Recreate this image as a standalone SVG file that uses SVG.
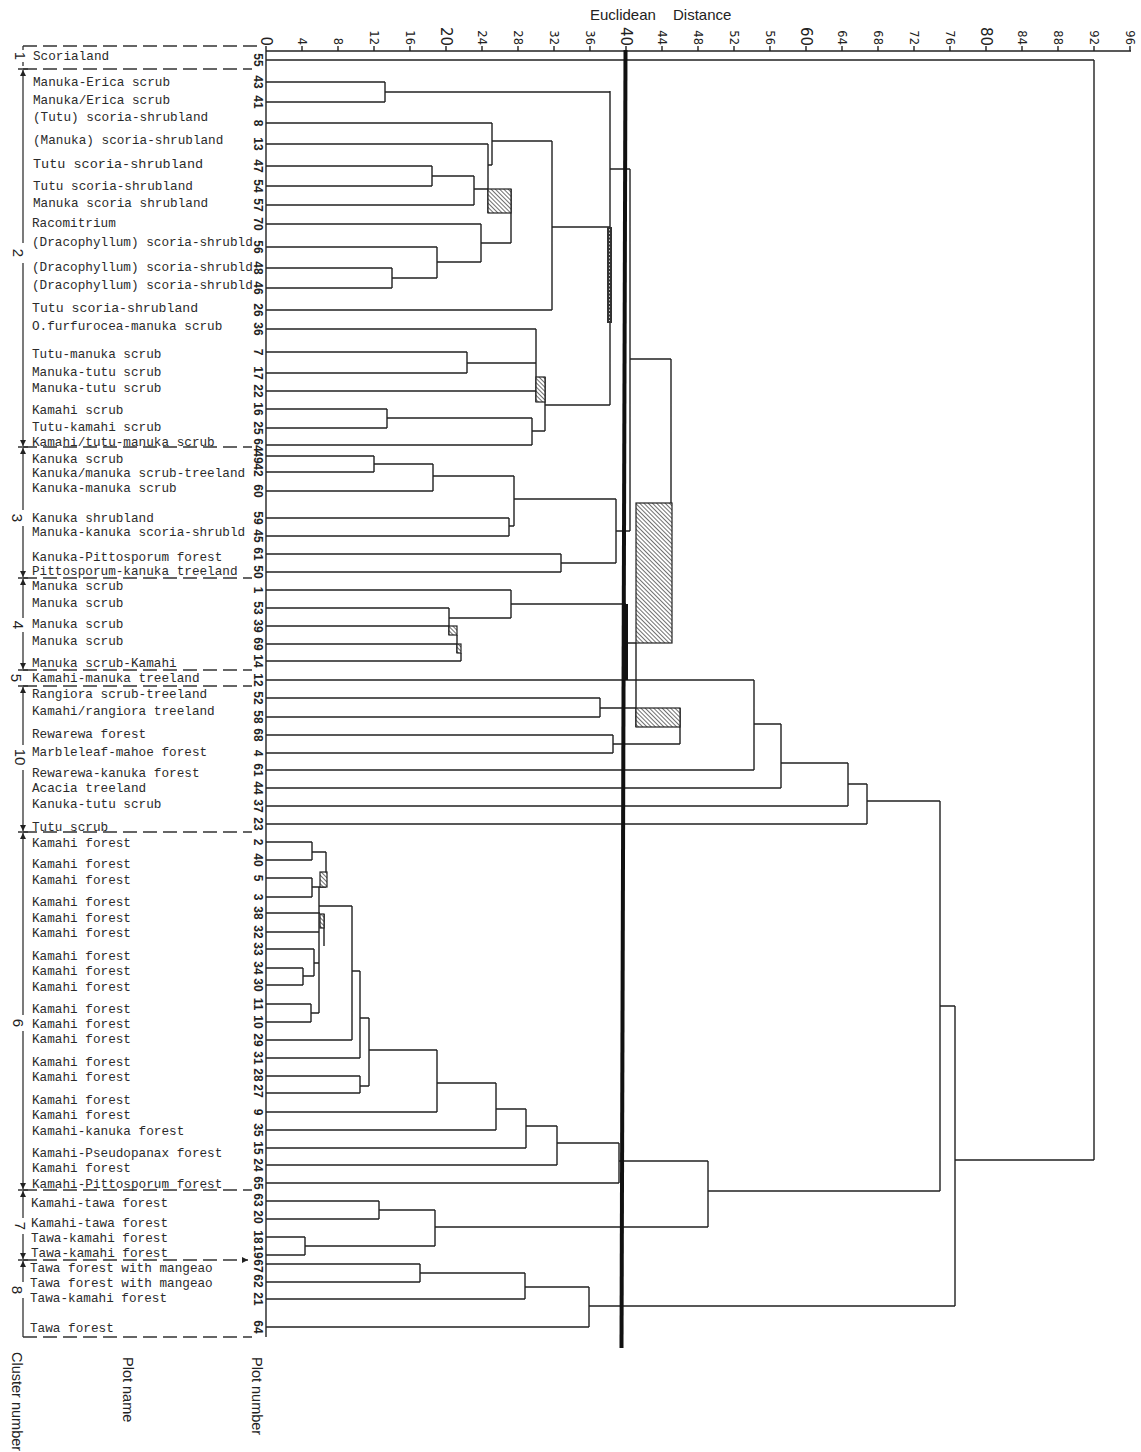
<svg xmlns="http://www.w3.org/2000/svg" width="1141" height="1452" viewBox="0 0 1141 1452">
<style>
.lbl{font-family:"Liberation Mono","Courier New",monospace;font-size:12.7px;fill:#2b2b2b}
.pn{font-family:"Liberation Sans",Arial,sans-serif;font-weight:bold;font-size:12px;fill:#222}
.ax{font-family:"DejaVu Sans","Liberation Sans",sans-serif;font-size:11.5px;fill:#222}
.axb{font-family:"DejaVu Sans","Liberation Sans",sans-serif;font-size:15px;fill:#222}
.ttl{font-family:"Liberation Sans",Arial,sans-serif;font-size:15px;fill:#222}
.cn{font-family:"Liberation Sans",Arial,sans-serif;font-size:15px;fill:#222}
.hd{font-family:"Liberation Sans",Arial,sans-serif;font-size:14.5px;fill:#222}
.d{fill:none;stroke:#222;stroke-width:1.4}
.dash{fill:none;stroke:#333;stroke-width:1.3;stroke-dasharray:14 6}
.cl{fill:none;stroke:#333;stroke-width:1.3}
.hb{fill:url(#hatch);stroke:#222;stroke-width:1.2}
</style>
<defs>
<pattern id="hatch" patternUnits="userSpaceOnUse" width="3" height="3" patternTransform="rotate(-45)">
<rect width="3" height="3" fill="#fff"/>
<line x1="0" y1="0" x2="0" y2="3" stroke="#222" stroke-width="1.3"/>
</pattern>
<marker id="ar" viewBox="0 0 6 6" refX="6" refY="3" markerWidth="6" markerHeight="6" markerUnits="userSpaceOnUse" orient="auto-start-reverse">
<path d="M0,0L6,3L0,6z" fill="#222"/>
</marker>
</defs>
<rect width="1141" height="1452" fill="#fff"/>

<g id="axis">
<text class="ttl" x="590" y="20">Euclidean</text>
<text class="ttl" x="673" y="20">Distance</text>
<path class="d" d="M266 51H1131"/>
<path class="d" stroke-width="1" d="M266 46V51M302 46V51M338 46V51M374 46V51M410 46V51M446 46V51M482 46V51M518 46V51M554 46V51M590 46V51M626 46V51M662 46V51M698 46V51M734 46V51M770 46V51M806 46V51M842 46V51M878 46V51M914 46V51M950 46V51M986 46V51M1022 46V51M1058 46V51M1094 46V51M1130 46V51"/>
<g text-anchor="end" dominant-baseline="central">
<text class="axb" x="266" y="46" transform="rotate(90 266 46)">0</text>
<text class="ax" x="302" y="45" transform="rotate(90 302 45)">4</text>
<text class="ax" x="338" y="45" transform="rotate(90 338 45)">8</text>
<text class="ax" x="374" y="45" transform="rotate(90 374 45)">12</text>
<text class="ax" x="410" y="45" transform="rotate(90 410 45)">16</text>
<text class="axb" x="446" y="46" transform="rotate(90 446 46)">20</text>
<text class="ax" x="482" y="45" transform="rotate(90 482 45)">24</text>
<text class="ax" x="518" y="45" transform="rotate(90 518 45)">28</text>
<text class="ax" x="554" y="45" transform="rotate(90 554 45)">32</text>
<text class="ax" x="590" y="45" transform="rotate(90 590 45)">36</text>
<text class="axb" x="626" y="46" transform="rotate(90 626 46)">40</text>
<text class="ax" x="662" y="45" transform="rotate(90 662 45)">44</text>
<text class="ax" x="698" y="45" transform="rotate(90 698 45)">48</text>
<text class="ax" x="734" y="45" transform="rotate(90 734 45)">52</text>
<text class="ax" x="770" y="45" transform="rotate(90 770 45)">56</text>
<text class="axb" x="806" y="46" transform="rotate(90 806 46)">60</text>
<text class="ax" x="842" y="45" transform="rotate(90 842 45)">64</text>
<text class="ax" x="878" y="45" transform="rotate(90 878 45)">68</text>
<text class="ax" x="914" y="45" transform="rotate(90 914 45)">72</text>
<text class="ax" x="950" y="45" transform="rotate(90 950 45)">76</text>
<text class="axb" x="986" y="46" transform="rotate(90 986 46)">80</text>
<text class="ax" x="1022" y="45" transform="rotate(90 1022 45)">84</text>
<text class="ax" x="1058" y="45" transform="rotate(90 1058 45)">88</text>
<text class="ax" x="1094" y="45" transform="rotate(90 1094 45)">92</text>
<text class="ax" x="1130" y="45" transform="rotate(90 1130 45)">96</text>
</g>
</g>

<g id="headers" dominant-baseline="central">
<text class="hd" x="257" y="1357" transform="rotate(90 257 1357)">Plot number</text>
<text class="hd" x="128" y="1357" transform="rotate(90 128 1357)">Plot name</text>
<text class="hd" x="17" y="1352" transform="rotate(90 17 1352)">Cluster number</text>
</g>

<g id="clusters">
<path class="dash" d="M23 46H262M23 69H252M23 447H252M23 578H252M23 670H252M23 686H252M23 832H252M23 1190H252M23 1337H252"/>
<path class="dash" d="M23 1260H248" marker-end="url(#ar)"/>
<path class="cl" d="M23 46V50M23 62V66"/>
<path class="cl" d="M23 70V243" marker-start="url(#ar)"/>
<path class="cl" d="M23 263V446" marker-end="url(#ar)"/>
<path class="cl" d="M23 448V510" marker-start="url(#ar)"/>
<path class="cl" d="M23 526V577" marker-end="url(#ar)"/>
<path class="cl" d="M23 579V618" marker-start="url(#ar)"/>
<path class="cl" d="M23 632V669" marker-end="url(#ar)"/>
<path class="cl" d="M23 687V745" marker-start="url(#ar)"/>
<path class="cl" d="M23 770V831" marker-end="url(#ar)"/>
<path class="cl" d="M23 833V1015" marker-start="url(#ar)"/>
<path class="cl" d="M23 1031V1189" marker-end="url(#ar)"/>
<path class="cl" d="M23 1191V1218" marker-start="url(#ar)"/>
<path class="cl" d="M23 1234V1259" marker-end="url(#ar)"/>
<path class="cl" d="M23 1261V1282" marker-start="url(#ar)"/>
<path class="cl" d="M23 1298V1337"/>
<path class="cl" d="M18 69H28M18 447H28M18 578H28M18 670H28M18 686H28M18 832H28M18 1190H28M18 1260H28"/>
<g text-anchor="middle" dominant-baseline="central">
<text class="cn" x="20" y="56" transform="rotate(90 20 56)">1</text>
<text class="cn" x="18" y="253" transform="rotate(90 18 253)">2</text>
<text class="cn" x="17" y="518" transform="rotate(90 17 518)">3</text>
<text class="cn" x="18" y="625" transform="rotate(90 18 625)">4</text>
<text class="cn" x="16" y="678" transform="rotate(90 16 678)">5</text>
<text class="cn" x="20" y="757" transform="rotate(90 20 757)">10</text>
<text class="cn" x="18" y="1023" transform="rotate(90 18 1023)">6</text>
<text class="cn" x="20" y="1226" transform="rotate(90 20 1226)">7</text>
<text class="cn" x="17" y="1290" transform="rotate(90 17 1290)">8</text>
</g>
</g>

<g id="leaves" text-anchor="start">
<g id="p55"><text class="lbl" x="33" y="60">Scorialand</text></g>
<g id="p43"><text class="lbl" x="33" y="86">Manuka-Erica scrub</text></g>
<g id="p41"><text class="lbl" x="33" y="104">Manuka/Erica scrub</text></g>
<g id="p8"><text class="lbl" x="33" y="121">(Tutu) scoria-shrubland</text></g>
<g id="p13"><text class="lbl" x="33" y="144">(Manuka) scoria-shrubland</text></g>
<g id="p47"><text class="lbl" x="33" y="168" style="font-size:13.5px">Tutu scoria-shrubland</text></g>
<g id="p54"><text class="lbl" x="33" y="190">Tutu scoria-shrubland</text></g>
<g id="p57"><text class="lbl" x="33" y="207">Manuka scoria shrubland</text></g>
<g id="p70"><text class="lbl" x="32" y="227">Racomitrium</text></g>
<g id="p56"><text class="lbl" x="32" y="246">(Dracophyllum) scoria-shrubld</text></g>
<g id="p48"><text class="lbl" x="32" y="271">(Dracophyllum) scoria-shrubld</text></g>
<g id="p46"><text class="lbl" x="32" y="289">(Dracophyllum) scoria-shrubld</text></g>
<g id="p26"><text class="lbl" x="32" y="312" style="font-size:13.2px">Tutu scoria-shrubland</text></g>
<g id="p36"><text class="lbl" x="32" y="330">O.furfurocea-manuka scrub</text></g>
<g id="p7"><text class="lbl" x="32" y="358">Tutu-manuka scrub</text></g>
<g id="p17"><text class="lbl" x="32" y="376">Manuka-tutu scrub</text></g>
<g id="p22"><text class="lbl" x="32" y="392">Manuka-tutu scrub</text></g>
<g id="p16"><text class="lbl" x="32" y="414">Kamahi scrub</text></g>
<g id="p25"><text class="lbl" x="32" y="431">Tutu-kamahi scrub</text></g>
<g id="p64a"><text class="lbl" x="32" y="446">Kamahi/tutu-manuka scrub</text></g>
<g id="p49"><text class="lbl" x="32" y="463">Kanuka scrub</text></g>
<g id="p42"><text class="lbl" x="32" y="477">Kanuka/manuka scrub-treeland</text></g>
<g id="p60"><text class="lbl" x="32" y="492">Kanuka-manuka scrub</text></g>
<g id="p59"><text class="lbl" x="32" y="522">Kanuka shrubland</text></g>
<g id="p45"><text class="lbl" x="32" y="536">Manuka-kanuka scoria-shrubld</text></g>
<g id="p61a"><text class="lbl" x="32" y="561">Kanuka-Pittosporum forest</text></g>
<g id="p50"><text class="lbl" x="32" y="575">Pittosporum-kanuka treeland</text></g>
<g id="p1"><text class="lbl" x="32" y="590">Manuka scrub</text></g>
<g id="p53"><text class="lbl" x="32" y="607">Manuka scrub</text></g>
<g id="p39"><text class="lbl" x="32" y="628">Manuka scrub</text></g>
<g id="p69"><text class="lbl" x="32" y="645">Manuka scrub</text></g>
<g id="p14"><text class="lbl" x="32" y="667">Manuka scrub-Kamahi</text></g>
<g id="p12"><text class="lbl" x="32" y="682">Kamahi-manuka treeland</text></g>
<g id="p52"><text class="lbl" x="32" y="698">Rangiora scrub-treeland</text></g>
<g id="p58"><text class="lbl" x="32" y="715">Kamahi/rangiora treeland</text></g>
<g id="p68"><text class="lbl" x="32" y="738">Rewarewa forest</text></g>
<g id="p4"><text class="lbl" x="32" y="756">Marbleleaf-mahoe forest</text></g>
<g id="p61b"><text class="lbl" x="32" y="777">Rewarewa-kanuka forest</text></g>
<g id="p44"><text class="lbl" x="32" y="792">Acacia treeland</text></g>
<g id="p37"><text class="lbl" x="32" y="808">Kanuka-tutu scrub</text></g>
<g id="p23"><text class="lbl" x="32" y="831">Tutu scrub</text></g>
<g id="p2"><text class="lbl" x="32" y="847">Kamahi forest</text></g>
<g id="p40"><text class="lbl" x="32" y="868">Kamahi forest</text></g>
<g id="p5"><text class="lbl" x="32" y="884">Kamahi forest</text></g>
<g id="p3"><text class="lbl" x="32" y="906">Kamahi forest</text></g>
<g id="p38"><text class="lbl" x="32" y="922">Kamahi forest</text></g>
<g id="p32"><text class="lbl" x="32" y="937">Kamahi forest</text></g>
<g id="p33"><text class="lbl" x="32" y="960">Kamahi forest</text></g>
<g id="p34"><text class="lbl" x="32" y="975">Kamahi forest</text></g>
<g id="p30"><text class="lbl" x="32" y="991">Kamahi forest</text></g>
<g id="p11"><text class="lbl" x="32" y="1013">Kamahi forest</text></g>
<g id="p10"><text class="lbl" x="32" y="1028">Kamahi forest</text></g>
<g id="p29"><text class="lbl" x="32" y="1043">Kamahi forest</text></g>
<g id="p31"><text class="lbl" x="32" y="1066">Kamahi forest</text></g>
<g id="p28"><text class="lbl" x="32" y="1081">Kamahi forest</text></g>
<g id="p27"><text class="lbl" x="32" y="1104">Kamahi forest</text></g>
<g id="p9"><text class="lbl" x="32" y="1119">Kamahi forest</text></g>
<g id="p35"><text class="lbl" x="32" y="1135">Kamahi-kanuka forest</text></g>
<g id="p15"><text class="lbl" x="32" y="1157">Kamahi-Pseudopanax forest</text></g>
<g id="p24"><text class="lbl" x="32" y="1172">Kamahi forest</text></g>
<g id="p65"><text class="lbl" x="32" y="1188">Kamahi-Pittosporum forest</text></g>
<g id="p63"><text class="lbl" x="31" y="1207">Kamahi-tawa forest</text></g>
<g id="p20"><text class="lbl" x="31" y="1227">Kamahi-tawa forest</text></g>
<g id="p18"><text class="lbl" x="31" y="1242">Tawa-kamahi forest</text></g>
<g id="p19"><text class="lbl" x="31" y="1257">Tawa-kamahi forest</text></g>
<g id="p67"><text class="lbl" x="30" y="1272">Tawa forest with mangeao</text></g>
<g id="p62"><text class="lbl" x="30" y="1287">Tawa forest with mangeao</text></g>
<g id="p21"><text class="lbl" x="30" y="1302">Tawa-kamahi forest</text></g>
<g id="p64b"><text class="lbl" x="30" y="1332">Tawa forest</text></g>
</g>

<g id="plotnumbers" text-anchor="middle" dominant-baseline="central">
<text class="pn" x="258" y="60" transform="rotate(90 258 60)">55</text>
<text class="pn" x="258" y="82" transform="rotate(90 258 82)">43</text>
<text class="pn" x="258" y="102" transform="rotate(90 258 102)">41</text>
<text class="pn" x="258" y="123" transform="rotate(90 258 123)">8</text>
<text class="pn" x="258" y="144" transform="rotate(90 258 144)">13</text>
<text class="pn" x="258" y="166" transform="rotate(90 258 166)">47</text>
<text class="pn" x="258" y="186" transform="rotate(90 258 186)">54</text>
<text class="pn" x="258" y="205" transform="rotate(90 258 205)">57</text>
<text class="pn" x="258" y="224" transform="rotate(90 258 224)">70</text>
<text class="pn" x="258" y="247" transform="rotate(90 258 247)">56</text>
<text class="pn" x="258" y="268" transform="rotate(90 258 268)">48</text>
<text class="pn" x="258" y="288" transform="rotate(90 258 288)">46</text>
<text class="pn" x="258" y="310" transform="rotate(90 258 310)">26</text>
<text class="pn" x="258" y="329" transform="rotate(90 258 329)">36</text>
<text class="pn" x="258" y="352" transform="rotate(90 258 352)">7</text>
<text class="pn" x="258" y="373" transform="rotate(90 258 373)">17</text>
<text class="pn" x="258" y="391" transform="rotate(90 258 391)">22</text>
<text class="pn" x="258" y="409" transform="rotate(90 258 409)">16</text>
<text class="pn" x="258" y="428" transform="rotate(90 258 428)">25</text>
<text class="pn" x="258" y="445" transform="rotate(90 258 445)">64</text>
<text class="pn" x="258" y="457" transform="rotate(90 258 457)">49</text>
<text class="pn" x="258" y="470" transform="rotate(90 258 470)">42</text>
<text class="pn" x="258" y="491" transform="rotate(90 258 491)">60</text>
<text class="pn" x="258" y="518" transform="rotate(90 258 518)">59</text>
<text class="pn" x="258" y="536" transform="rotate(90 258 536)">45</text>
<text class="pn" x="258" y="554" transform="rotate(90 258 554)">61</text>
<text class="pn" x="258" y="572" transform="rotate(90 258 572)">50</text>
<text class="pn" x="258" y="590" transform="rotate(90 258 590)">1</text>
<text class="pn" x="258" y="608" transform="rotate(90 258 608)">53</text>
<text class="pn" x="258" y="626" transform="rotate(90 258 626)">39</text>
<text class="pn" x="258" y="644" transform="rotate(90 258 644)">69</text>
<text class="pn" x="258" y="661" transform="rotate(90 258 661)">14</text>
<text class="pn" x="258" y="680" transform="rotate(90 258 680)">12</text>
<text class="pn" x="258" y="698" transform="rotate(90 258 698)">52</text>
<text class="pn" x="258" y="717" transform="rotate(90 258 717)">58</text>
<text class="pn" x="258" y="735" transform="rotate(90 258 735)">68</text>
<text class="pn" x="258" y="753" transform="rotate(90 258 753)">4</text>
<text class="pn" x="258" y="770" transform="rotate(90 258 770)">61</text>
<text class="pn" x="258" y="788" transform="rotate(90 258 788)">44</text>
<text class="pn" x="258" y="806" transform="rotate(90 258 806)">37</text>
<text class="pn" x="258" y="824" transform="rotate(90 258 824)">23</text>
<text class="pn" x="258" y="842" transform="rotate(90 258 842)">2</text>
<text class="pn" x="258" y="860" transform="rotate(90 258 860)">40</text>
<text class="pn" x="258" y="878" transform="rotate(90 258 878)">5</text>
<text class="pn" x="258" y="897" transform="rotate(90 258 897)">3</text>
<text class="pn" x="258" y="913" transform="rotate(90 258 913)">38</text>
<text class="pn" x="258" y="932" transform="rotate(90 258 932)">32</text>
<text class="pn" x="258" y="949" transform="rotate(90 258 949)">33</text>
<text class="pn" x="258" y="968" transform="rotate(90 258 968)">34</text>
<text class="pn" x="258" y="985" transform="rotate(90 258 985)">30</text>
<text class="pn" x="258" y="1004" transform="rotate(90 258 1004)">11</text>
<text class="pn" x="258" y="1022" transform="rotate(90 258 1022)">10</text>
<text class="pn" x="258" y="1040" transform="rotate(90 258 1040)">29</text>
<text class="pn" x="258" y="1058" transform="rotate(90 258 1058)">31</text>
<text class="pn" x="258" y="1075" transform="rotate(90 258 1075)">28</text>
<text class="pn" x="258" y="1091" transform="rotate(90 258 1091)">27</text>
<text class="pn" x="258" y="1112" transform="rotate(90 258 1112)">9</text>
<text class="pn" x="258" y="1130" transform="rotate(90 258 1130)">35</text>
<text class="pn" x="258" y="1148" transform="rotate(90 258 1148)">15</text>
<text class="pn" x="258" y="1165" transform="rotate(90 258 1165)">24</text>
<text class="pn" x="258" y="1183" transform="rotate(90 258 1183)">65</text>
<text class="pn" x="258" y="1200" transform="rotate(90 258 1200)">63</text>
<text class="pn" x="258" y="1217" transform="rotate(90 258 1217)">20</text>
<text class="pn" x="258" y="1237" transform="rotate(90 258 1237)">18</text>
<text class="pn" x="258" y="1252" transform="rotate(90 258 1252)">19</text>
<text class="pn" x="258" y="1266" transform="rotate(90 258 1266)">67</text>
<text class="pn" x="258" y="1281" transform="rotate(90 258 1281)">62</text>
<text class="pn" x="258" y="1299" transform="rotate(90 258 1299)">21</text>
<text class="pn" x="258" y="1327" transform="rotate(90 258 1327)">64</text>
</g>

<g id="connectors">
<path class="d" d="M266 51V1337"/>
<path class="d" d="M266 60H1094M266 82H385M266 102H385M266 123H492M266 144H488M266 166H432M266 186H432M266 205H474M266 224H481M266 247H437M266 268H392M266 288H392M266 310H552M266 329H536M266 352H467M266 373H467M266 391H536M266 409H387M266 428H387M266 445H532M266 456H374M266 472H374M266 491H433M266 518H509M266 536H509M266 554H561M266 572H561M266 590H511M266 608H449M266 626H449M266 644H457M266 661H461M266 680H754M266 698H600M266 717H600M266 735H613M266 753H613M266 770H754M266 788H781M266 806H848M266 824H867M266 842H312M266 860H312M266 878H312M266 897H312M266 913H320M266 932H319M266 949H314M266 968H303M266 985H303M266 1004H311M266 1022H311M266 1040H352M266 1058H360M266 1076H360M266 1093H360M266 1112H437M266 1130H496M266 1148H526M266 1165H557M266 1183H619M266 1201H379M266 1219H379M266 1237H305M266 1255H305M266 1264H420M266 1282H420M266 1299H525M266 1327H589"/>
<path class="d" d="M385 82V102M385 92H610M432 166V186M432 176H474M474 176V205M474 189H488M392 268V288M392 278H437M437 247V278M437 262H481M481 224V262M481 243H511M511 189V243M488 144V213M492 123V165M488 165H492M492 141H552M552 141V310M552 227H610M467 352V373M467 363H536M536 329V402M387 409V428M387 418H532M532 418V445M532 431H545M545 377V431M545 405H610M610 91V405M610 169H630M374 456V472M374 464H433M433 464V491M433 476H514M509 518V536M509 526H514M514 476V526M514 499H616M561 554V572M561 563H616M616 499V563M616 531H630M630 169V531M630 359H671M671 359V643M449 608V635M457 635V653M461 653V661M449 618H511M511 590V618M511 604H626M626 643H636M636 643V727M600 698V717M600 708H636M613 735V753M613 744H680M680 708V744M754 680V770M754 724H781M781 724V788M781 763H848M848 763V806M848 784H867M867 784V824M867 801H940M940 801V1191M940 1006H955M955 1006V1306M955 1160H1094M1094 60V1160"/>
<path class="d" d="M312 842V860M312 852H326M312 878V897M312 887H326M326 852V887M319 887V1013M319 906H352M324 914V946M314 949V976M314 963H319M303 968V985M303 976H314M311 1004V1022M311 1013H319M352 906V1040M352 971H360M360 971V1058M360 1076V1093M360 1086H369M360 1018H369M369 1018V1086M369 1050H437M437 1050V1112M437 1083H496M496 1083V1130M496 1109H526M526 1109V1148M526 1126H557M557 1126V1165M557 1143H619M619 1143V1183M619 1161H708M379 1201V1219M379 1210H435M305 1237V1255M305 1246H435M435 1210V1246M435 1227H708M708 1161V1227M708 1191H940M420 1264V1282M420 1273H525M525 1273V1299M525 1287H589M589 1287V1327M589 1306H955"/>
<rect class="hb" x="488" y="189" width="23" height="24"/>
<rect class="hb" x="536" y="377" width="9" height="25"/>
<rect class="hb" x="636" y="503" width="36" height="140"/>
<rect class="hb" x="449" y="626" width="8" height="9"/>
<rect class="hb" x="457" y="644" width="4" height="9"/>
<rect class="hb" x="636" y="708" width="44" height="19"/>
<rect class="hb" x="320" y="872" width="7" height="15"/>
<rect class="hb" x="320" y="914" width="4" height="14"/>
<rect x="607" y="227" width="5" height="96" fill="#333"/>
<path d="M609.5 229V321" stroke="#ccc" stroke-width="1" stroke-dasharray="1.5 2"/>
<rect x="623" y="604" width="5" height="76" fill="#111"/>
<path d="M625.5 50L621.5 1348" stroke="#111" stroke-width="4" fill="none"/>
</g>
</svg>
